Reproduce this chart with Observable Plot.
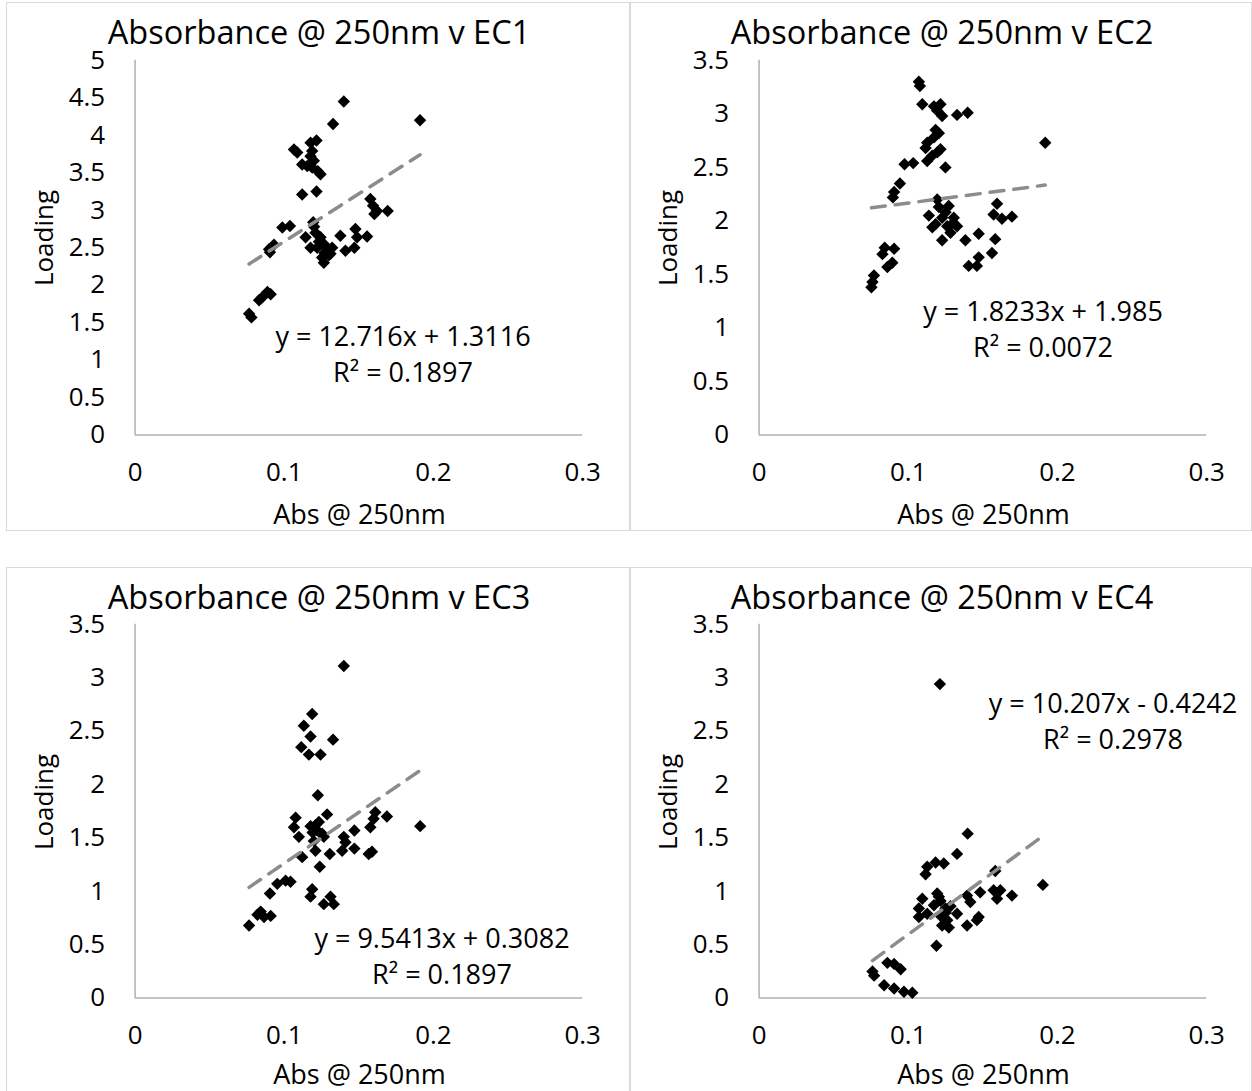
<!DOCTYPE html>
<html>
<head>
<meta charset="utf-8">
<script src="https://cdn.jsdelivr.net/npm/d3@7"></script>
<script src="https://cdn.jsdelivr.net/npm/@observablehq/plot@0.6"></script>
<style>
  html, body { margin: 0; padding: 0; background: #fff; }
  #root { position: relative; width: 1252px; height: 1091px; overflow: hidden; font-family: "Open Sans", Lato, sans-serif; color: #000; }
  .panel { position: absolute; box-sizing: border-box; border: 1px solid #d9d9d9; }
  .panel svg { position: absolute; left: 0; top: 0; overflow: visible; }
  .lbl { position: absolute; white-space: nowrap; line-height: 1; transform: translate(-50%, -50%); }
</style>
</head>
<body>
<div id="root"></div>
<script>
// ---------- data ----------
const titles = ["Absorbance @ 250nm v EC1", "Absorbance @ 250nm v EC2", "Absorbance @ 250nm v EC3", "Absorbance @ 250nm v EC4"];
const xLabel = "Abs @ 250nm";
const yLabel = "Loading";
const xTicks = [0, 0.1, 0.2, 0.3];
const yMaxes = [5, 3.5, 3.5, 3.5];
const slopes = [12.716, 1.8233, 9.5413, 10.207];
const intercepts = [1.3116, 1.985, 0.3082, -0.4242];
const eqTexts = ["y = 12.716x + 1.3116", "y = 1.8233x + 1.985", "y = 9.5413x + 0.3082", "y = 10.207x - 0.4242"];
const r2Texts = ["R² = 0.1897", "R² = 0.0072", "R² = 0.1897", "R² = 0.2978"];

const ec1 = [
  [0.1399,4.45],[0.1327,4.15],[0.191,4.20],
  [0.1065,3.81],[0.1087,3.77],[0.1176,3.90],[0.1216,3.93],[0.1187,3.79],[0.1176,3.72],[0.1198,3.66],[0.112,3.61],[0.1154,3.59],[0.1187,3.57],[0.1225,3.52],[0.1243,3.48],
  [0.112,3.21],[0.1216,3.25],
  [0.1577,3.15],[0.1595,3.06],[0.1622,2.99],[0.1604,2.95],[0.1693,2.99],
  [0.0987,2.77],[0.1038,2.79],[0.0931,2.54],[0.0898,2.48],[0.0904,2.44],
  [0.1194,2.84],[0.1143,2.64],[0.1209,2.70],[0.1243,2.64],[0.1176,2.50],[0.1221,2.50],[0.1265,2.55],[0.1287,2.46],[0.1254,2.37],[0.1265,2.30],[0.131,2.42],[0.1376,2.66],[0.141,2.46],[0.1477,2.75],[0.1488,2.64],[0.147,2.50],[0.1555,2.65],[0.1321,2.50],
  [0.1232,2.58],[0.1276,2.52],[0.1298,2.40],[0.1200,2.78],[0.1270,2.43],
  [0.0887,1.91],[0.0853,1.84],[0.0831,1.80],[0.0909,1.88],[0.0764,1.62],[0.078,1.57]
];
const ec2 = [
  [0.1071,3.30],[0.1078,3.26],[0.1094,3.09],[0.1172,3.07],[0.1216,3.09],[0.1194,3.03],[0.1227,2.98],[0.1327,2.99],[0.1398,3.01],
  [0.1183,2.85],[0.1205,2.82],[0.1172,2.78],[0.1127,2.73],[0.1116,2.68],[0.1216,2.67],[0.1194,2.64],[0.1161,2.61],[0.1127,2.56],[0.1249,2.50],
  [0.0975,2.53],[0.1033,2.54],[0.0944,2.35],[0.0905,2.27],[0.0897,2.22],
  [0.1918,2.73],
  [0.1194,2.20],[0.1271,2.14],[0.1205,2.13],[0.1138,2.05],[0.1227,2.03],[0.1305,2.03],[0.1183,1.97],[0.1261,1.95],[0.1327,1.95],[0.1283,1.89],[0.1227,1.82],[0.1161,1.94],[0.1250,2.08],[0.1300,1.98],
  [0.1383,1.82],[0.1472,1.88],
  [0.1595,2.16],[0.1572,2.06],[0.1628,2.02],[0.1695,2.04],
  [0.1583,1.83],[0.1561,1.70],[0.1472,1.66],[0.1405,1.58],[0.146,1.58],
  [0.0842,1.75],[0.0905,1.74],[0.0827,1.69],[0.0893,1.61],[0.086,1.57],
  [0.077,1.49],[0.076,1.43],[0.0753,1.38]
];
const ec3 = [
  [0.1399,3.11],[0.1187,2.66],[0.1131,2.55],[0.1176,2.45],[0.1327,2.42],[0.1114,2.35],[0.1165,2.28],[0.1243,2.28],
  [0.1225,1.90],
  [0.1076,1.69],[0.1287,1.72],[0.1065,1.60],[0.1176,1.61],[0.1232,1.65],[0.1221,1.57],[0.1254,1.54],[0.1098,1.51],[0.1198,1.47],[0.1265,1.51],[0.1209,1.38],[0.112,1.32],[0.1238,1.23],[0.1305,1.35],[0.1210,1.62],[0.1190,1.55],
  [0.1399,1.51],[0.1388,1.38],[0.147,1.57],[0.147,1.40],[0.141,1.46],
  [0.161,1.74],[0.1599,1.68],[0.1688,1.70],[0.1577,1.60],[0.1566,1.35],[0.1588,1.37],
  [0.1911,1.61],
  [0.1009,1.10],[0.0953,1.07],[0.1042,1.09],[0.0904,0.98],
  [0.1187,1.02],[0.1176,0.95],[0.131,0.95],[0.1265,0.88],[0.1332,0.88],
  [0.0842,0.81],[0.0909,0.77],[0.0864,0.76],[0.0820,0.78],[0.0764,0.68]
];
const ec4 = [
  [0.1212,2.94],[0.1398,1.54],[0.1327,1.35],
  [0.1127,1.23],[0.1183,1.27],[0.1238,1.26],[0.1116,1.16],
  [0.1583,1.19],[0.1902,1.06],
  [0.1482,0.99],[0.1572,1.01],[0.1617,1.01],[0.1595,0.93],[0.1695,0.96],
  [0.1394,0.96],[0.1416,0.90],
  [0.1094,0.93],[0.1194,0.98],[0.1216,0.91],[0.1172,0.87],[0.1071,0.84],[0.1249,0.84],[0.1283,0.86],[0.1327,0.79],[0.1127,0.79],[0.1216,0.77],[0.1071,0.76],[0.1261,0.73],[0.1227,0.68],[0.1272,0.66],[0.1394,0.68],[0.1472,0.76],[0.146,0.73],[0.1205,0.95],[0.1250,0.80],
  [0.1189,0.49],
  [0.086,0.33],[0.0905,0.32],[0.0949,0.27],[0.076,0.25],[0.0771,0.21],[0.0838,0.12],[0.0905,0.09],[0.0971,0.06],[0.1027,0.05]
];
const series = [ec1, ec2, ec3, ec4];

// ---------- layout (page pixels) ----------
const boxes = [
  {left: 6,   top: 2,   right: 630,  bottom: 531, pl: 134, pr: 583,  pt: 59,  pb: 435, xl: 512},
  {left: 630, top: 2,   right: 1252, bottom: 531, pl: 758, pr: 1207, pt: 59,  pb: 435, xl: 512},
  {left: 6,   top: 567, right: 630,  bottom: 1093, pl: 134, pr: 583,  pt: 623, pb: 998, xl: 1072},
  {left: 630, top: 567, right: 1252, bottom: 1093, pl: 758, pr: 1207, pt: 623, pb: 998, xl: 1072}
];
const eqPos = [
  {x: 402, y1: 334, y2: 370},
  {x: 1042, y1: 309, y2: 345},
  {x: 441, y1: 936, y2: 972},
  {x: 1112, y1: 701, y2: 737}
];

const FONT = '"Open Sans", Lato, sans-serif';
const root = document.getElementById("root");

series.forEach((pts, i) => {
  const b = boxes[i];
  const W = b.right - b.left, H = b.bottom - b.top;
  const panel = document.createElement("div");
  panel.className = "panel";
  Object.assign(panel.style, {left: b.left + "px", top: b.top + "px", width: W + "px", height: H + "px"});
  root.appendChild(panel);

  const data = pts.map(([x, y]) => ({x, y}));
  const xs = data.map(d => d.x);
  const x0 = d3.min(xs), x1 = d3.max(xs);
  const trend = [x0, x1].map(x => ({x, y: slopes[i] * x + intercepts[i]}));
  const yTicks = d3.range(0, yMaxes[i] + 0.001, 0.5);
  const fmt = d => String(+d.toFixed(1));

  const chart = Plot.plot({
    width: W,
    height: H,
    marginLeft: b.pl - b.left,
    marginRight: b.right - b.pr,
    marginTop: b.pt - b.top,
    marginBottom: b.bottom - b.pb,
    style: {fontFamily: FONT, fontSize: "26px", color: "#000", background: "transparent", overflow: "visible"},
    x: {domain: [0, 0.3], label: null},
    y: {domain: [0, yMaxes[i]], label: null},
    marks: [
      Plot.axisX({ticks: xTicks, tickSize: 0, tickPadding: 28, fontSize: 26, tickFormat: fmt, label: null}),
      Plot.axisY({ticks: yTicks, tickSize: 0, tickPadding: 30, fontSize: 26, tickFormat: fmt, label: null}),
      Plot.ruleY([0], {stroke: "#b0b0b0", strokeWidth: 1.5}),
      Plot.ruleX([0], {stroke: "#b0b0b0", strokeWidth: 1.5}),
      Plot.dot(data, {x: "x", y: "y", symbol: "diamond2", r: 5.6, fill: "#000", stroke: "none"}),
      Plot.line(trend, {x: "x", y: "y", stroke: "#8c8c8c", strokeWidth: 3.5, strokeDasharray: "14,10", strokeLinecap: "round"})
    ]
  });
  panel.appendChild(chart);

  const addLbl = (text, px, py, size, rotate) => {
    const d = document.createElement("div");
    d.className = "lbl";
    d.textContent = text;
    d.style.left = (px - b.left) + "px";
    d.style.top = (py - b.top) + "px";
    d.style.fontSize = size + "px";
    if (rotate) d.style.transform = "translate(-50%, -50%) rotate(-90deg)";
    panel.appendChild(d);
  };
  // title
  addLbl(titles[i], (b.left + b.right) / 2, b.top + 29, 32.5);
  // axis titles
  addLbl(xLabel, (b.pl + b.pr) / 2, b.xl, 27);
  addLbl(yLabel, b.left + 36, (b.pt + b.pb) / 2 - 10, 26, true);
  // equation
  const e = eqPos[i];
  addLbl(eqTexts[i], e.x, e.y1, 27);
  addLbl(r2Texts[i], e.x, e.y2, 27);
});
</script>
</body>
</html>
